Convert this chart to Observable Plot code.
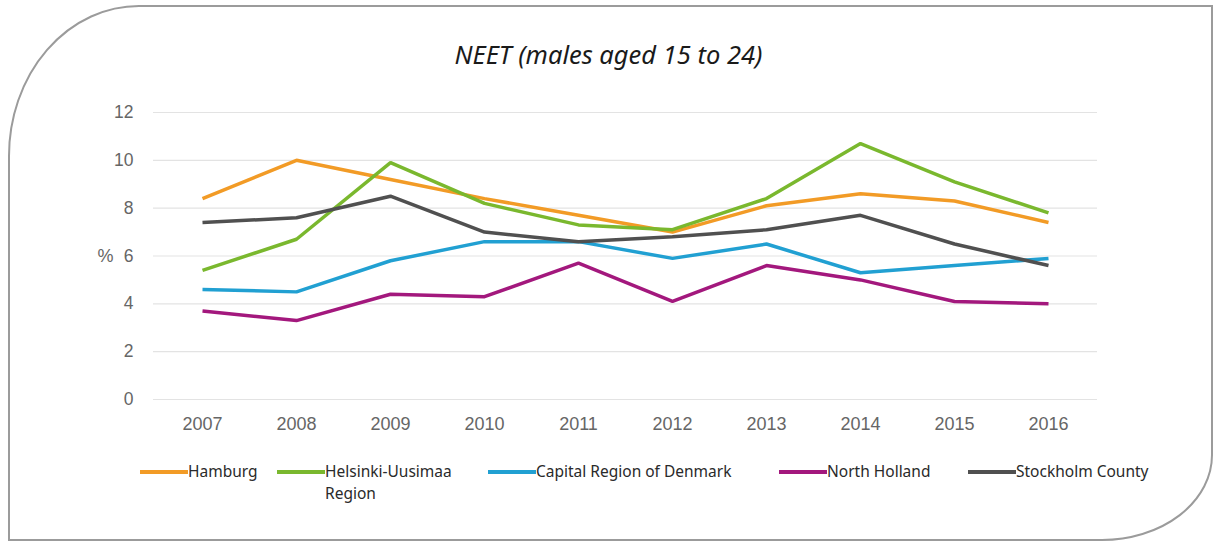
<!DOCTYPE html>
<html>
<head>
<meta charset="utf-8">
<script src="https://cdn.jsdelivr.net/npm/d3@7"></script>
<script src="https://cdn.jsdelivr.net/npm/@observablehq/plot@0.6"></script>
<style>
  html, body { margin: 0; padding: 0; background: #fff; }
  #wrap { position: relative; width: 1217px; height: 543px; overflow: hidden; }
  #frame { position: absolute; left: 0; top: 0; }
  #title { position: absolute; left: 0; width: 1217px; top: 37px; text-align: center;
           font-family: "Noto Sans", sans-serif; font-style: italic; font-size: 25.5px; color: #1a1a1a; }
  #chart { position: absolute; left: 0; top: 80px; }
  #legend { position: absolute; left: 140px; top: 460px; display: grid;
            grid-template-columns: 137px 211px 291px 189px 220px;
            font-family: "Noto Sans", sans-serif; font-size: 15.5px; color: #2a2a2a; line-height: 22px; }
  .item { display: flex; align-items: flex-start; }
  .sw { width: 48px; height: 3.5px; margin-top: 10px; flex: none; }
  .lab { flex: 1; }
</style>
</head>
<body>
<div id="wrap">
  <svg id="frame" width="1217" height="543"></svg>
  <div id="title">NEET (males aged 15 to 24)</div>
  <div id="chart"></div>
  <div id="legend"></div>
</div>
<script>
const years = [2007, 2008, 2009, 2010, 2011, 2012, 2013, 2014, 2015, 2016];
const seriesNames = ["Hamburg", "Helsinki-Uusimaa Region", "Capital Region of Denmark", "North Holland", "Stockholm County"];
const hamburg      = [8.4, 10.0, 9.2, 8.4, 7.7, 7.0, 8.1, 8.6, 8.3, 7.4];
const helsinki     = [5.4, 6.7, 9.9, 8.2, 7.3, 7.1, 8.4, 10.7, 9.1, 7.8];
const capital      = [4.6, 4.5, 5.8, 6.6, 6.6, 5.9, 6.5, 5.3, 5.6, 5.9];
const northHolland = [3.7, 3.3, 4.4, 4.3, 5.7, 4.1, 5.6, 5.0, 4.1, 4.0];
const stockholm    = [7.4, 7.6, 8.5, 7.0, 6.6, 6.8, 7.1, 7.7, 6.5, 5.6];
const yTicks = [0, 2, 4, 6, 8, 10, 12];
const colors = ["#F29B26", "#7AB82E", "#21A0D2", "#A3187D", "#505050"];

const allSeries = [hamburg, helsinki, capital, northHolland, stockholm];
const tidy = [];
seriesNames.forEach((name, i) => {
  years.forEach((yr, j) => tidy.push({series: name, year: yr, value: allSeries[i][j]}));
});

// frame
const frame = d3.select("#frame");
const L = 9, T = 6, R = 1212, B = 540;
frame.append("path")
  .attr("d", `M${L + 130},${T} L${R},${T} L${R},${B - 85} A110,85 0 0 1 ${R - 110},${B} L${L},${B} L${L},${T + 150} A130,150 0 0 1 ${L + 130},${T} Z`)
  .attr("fill", "none").attr("stroke", "#9b9b9b").attr("stroke-width", 2);

const chart = Plot.plot({
  width: 1217,
  height: 370,
  marginLeft: 153,
  marginRight: 120,
  marginTop: 32,
  marginBottom: 51,
  style: {fontFamily: "'Liberation Sans', Arial, sans-serif", fontSize: "18px", color: "#666", background: "transparent"},
  x: {type: "point", domain: years, padding: 0.5, label: null},
  y: {domain: [0, 12], label: null},
  color: {domain: seriesNames, range: colors},
  marks: [
    Plot.gridY(yTicks, {stroke: "#e3e3e3", strokeOpacity: 1, strokeWidth: 1.2}),
    Plot.axisY(yTicks, {tickSize: 0, tickPadding: 20, fontSize: 17.5}),
    Plot.axisX(years, {tickSize: 0, tickPadding: 18, fontSize: 18, tickFormat: d => String(d)}),
    Plot.text(["%"], {frameAnchor: "left", dx: -40, textAnchor: "end", fontSize: 18, fill: "#666"}),
    Plot.line(tidy, {x: "year", y: "value", z: "series", stroke: "series", strokeWidth: 3.5, strokeLinejoin: "miter", strokeLinecap: "butt"})
  ]
});
document.getElementById("chart").appendChild(chart);

// legend
const legend = d3.select("#legend");
seriesNames.forEach((name, i) => {
  const it = legend.append("div").attr("class", "item");
  it.append("div").attr("class", "sw").style("background", colors[i]);
  it.append("div").attr("class", "lab").text(name);
});
</script>
</body>
</html>
